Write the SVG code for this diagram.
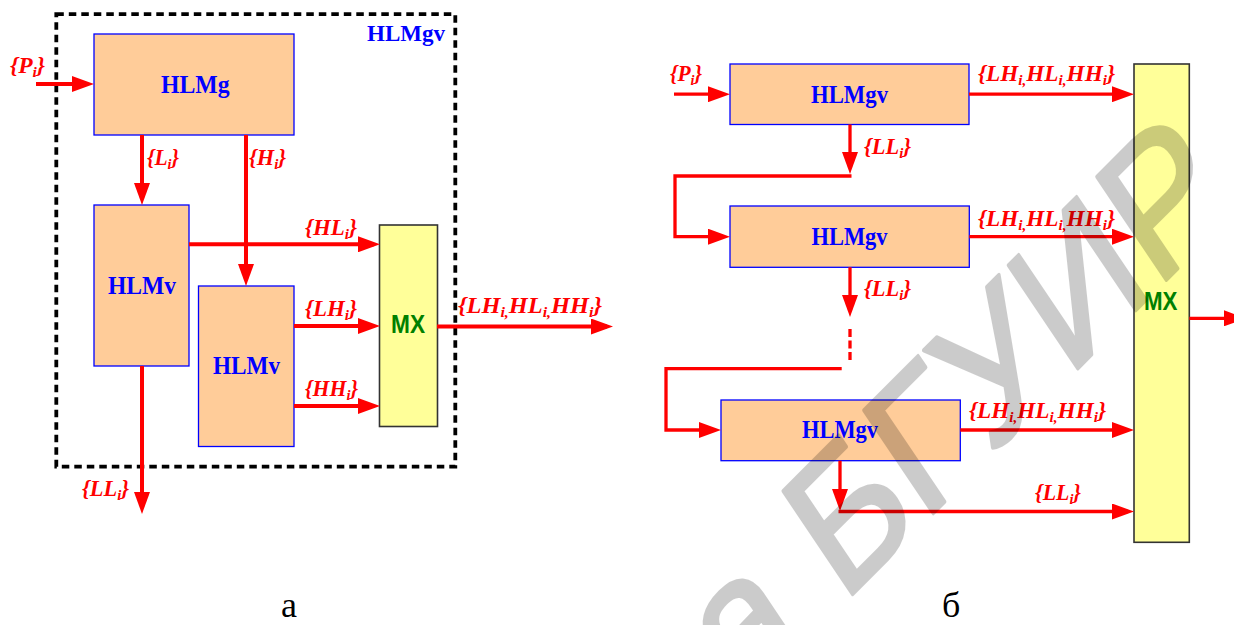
<svg xmlns="http://www.w3.org/2000/svg" width="1234" height="625" viewBox="0 0 1234 625">
<defs>
<style>
.box{fill:#FFCC99;stroke:#0000FF;stroke-width:1.3}
.mx{fill:#FFFF99;stroke:#333333;stroke-width:1.6}
.nt{font-family:'Liberation Serif','Times New Roman',Times,'DejaVu Serif',serif;font-weight:bold;fill:#0000FF;font-size:26px}
.mxt{font-family:'Liberation Sans',Arial,sans-serif;font-weight:bold;fill:#008000;font-size:25px}
.lbl{font-family:'Liberation Serif','Times New Roman',Times,'DejaVu Serif',serif;font-weight:bold;font-style:italic;fill:#FF0000;font-size:23px}
.s{font-size:15px}
.wa{stroke:#FF0000;stroke-width:4;fill:none}
.wb{stroke:#FF0000;stroke-width:3.3;fill:none}
.cap{font-family:'Liberation Serif','Times New Roman',Times,'DejaVu Serif',serif;font-size:36px;fill:#000}
</style>
<marker id="ah" markerUnits="userSpaceOnUse" markerWidth="22" markerHeight="16" refX="16" refY="8" orient="auto">
<path d="M0,0 L22,8 L0,16 z" fill="#FF0000"/>
</marker>
</defs>
<rect width="1234" height="625" fill="#FFFFFF"/>

<!-- Diagram a -->
<g id="hlmgv-frame">
<rect x="56.3" y="14.2" width="399" height="452.5" fill="none" stroke="#000" stroke-width="3.8" stroke-dasharray="7.5 5"/>
<text class="nt" x="367" y="41" style="font-size:23px" textLength="78" lengthAdjust="spacingAndGlyphs">HLMgv</text>
</g>
<g id="a-hlmg">
<rect class="box" x="94" y="34" width="200" height="101"/>
<text class="nt" x="161" y="92.5" textLength="68.5" lengthAdjust="spacingAndGlyphs">HLMg</text>
</g>
<g id="a-hlmv1">
<rect class="box" x="94" y="205" width="95" height="161"/>
<text class="nt" x="108" y="294" textLength="68" lengthAdjust="spacingAndGlyphs">HLMv</text>
</g>
<g id="a-hlmv2">
<rect class="box" x="198.5" y="286" width="95.5" height="160.5"/>
<text class="nt" x="213" y="374" textLength="67" lengthAdjust="spacingAndGlyphs">HLMv</text>
</g>
<g id="a-mx">
<rect class="mx" x="379.5" y="225" width="58" height="201.5"/>
<text class="mxt" x="391" y="333" textLength="34" lengthAdjust="spacingAndGlyphs">MX</text>
</g>

<g id="a-connectors">
<path class="wa" d="M36,84 H88" marker-end="url(#ah)"/>
<path class="wa" d="M142,135 V199" marker-end="url(#ah)"/>
<path class="wa" d="M246,135 V280" marker-end="url(#ah)"/>
<path class="wa" d="M189,244.3 H374" marker-end="url(#ah)"/>
<path class="wa" d="M294,326 H374" marker-end="url(#ah)"/>
<path class="wa" d="M294,406 H374" marker-end="url(#ah)"/>
<path class="wa" d="M437,326.5 H607" marker-end="url(#ah)"/>
<path class="wa" d="M142,366 V508" marker-end="url(#ah)"/>
</g>
<g id="a-labels">
<text class="lbl" x="10" y="73" textLength="35" lengthAdjust="spacingAndGlyphs">{P<tspan class="s" dy="4">i</tspan><tspan dy="-4">}</tspan></text>
<text class="lbl" x="147" y="165" textLength="32" lengthAdjust="spacingAndGlyphs">{L<tspan class="s" dy="4">i</tspan><tspan dy="-4">}</tspan></text>
<text class="lbl" x="249" y="165" textLength="37" lengthAdjust="spacingAndGlyphs">{H<tspan class="s" dy="4">i</tspan><tspan dy="-4">}</tspan></text>
<text class="lbl" x="305" y="235" textLength="52" lengthAdjust="spacingAndGlyphs">{HL<tspan class="s" dy="4">i</tspan><tspan dy="-4">}</tspan></text>
<text class="lbl" x="305" y="316" textLength="52" lengthAdjust="spacingAndGlyphs">{LH<tspan class="s" dy="4">i</tspan><tspan dy="-4">}</tspan></text>
<text class="lbl" x="305" y="396" textLength="53" lengthAdjust="spacingAndGlyphs">{HH<tspan class="s" dy="4">i</tspan><tspan dy="-4">}</tspan></text>
<text class="lbl" x="458" y="313" textLength="144" lengthAdjust="spacingAndGlyphs">{LH<tspan class="s" dy="4">i,</tspan><tspan dy="-4">HL</tspan><tspan class="s" dy="4">i,</tspan><tspan dy="-4">HH</tspan><tspan class="s" dy="4">i</tspan><tspan dy="-4">}</tspan></text>
<text class="lbl" x="82" y="496" textLength="47" lengthAdjust="spacingAndGlyphs">{LL<tspan class="s" dy="4">i</tspan><tspan dy="-4">}</tspan></text>
</g>

<!-- Diagram b -->
<g id="b-hlmgv1">
<rect class="box" x="730" y="64" width="239" height="60.5"/>
<text class="nt" x="811" y="102.5" textLength="77" lengthAdjust="spacingAndGlyphs">HLMgv</text>
</g>
<g id="b-hlmgv2">
<rect class="box" x="730" y="206" width="239.3" height="61.3"/>
<text class="nt" x="811.5" y="245" textLength="76" lengthAdjust="spacingAndGlyphs">HLMgv</text>
</g>
<g id="b-hlmgv3">
<rect class="box" x="721" y="400" width="239.3" height="60.7"/>
<text class="nt" x="802" y="438" textLength="76" lengthAdjust="spacingAndGlyphs">HLMgv</text>
</g>
<g id="b-mx">
<rect class="mx" x="1134" y="64" width="55.3" height="478.3"/>
<text class="mxt" x="1144" y="310" textLength="33.5" lengthAdjust="spacingAndGlyphs">MX</text>
</g>

<g id="b-connectors">
<path class="wb" d="M674,94.2 H724" marker-end="url(#ah)"/>
<path class="wb" d="M969,94.2 H1128" marker-end="url(#ah)"/>
<path class="wb" d="M850,124.5 V168" marker-end="url(#ah)"/>
<path class="wb" d="M851.5,176 H675 V236.7 H724" marker-end="url(#ah)"/>
<path class="wb" d="M969.3,236.7 H1128" marker-end="url(#ah)"/>
<path class="wb" d="M850,267.3 V311" marker-end="url(#ah)"/>
<path class="wb" d="M850,329 V361" stroke-dasharray="8 3.5"/>
<path class="wb" d="M841.7,368.7 H666 V430 H715" marker-end="url(#ah)"/>
<path class="wb" d="M960.3,430 H1128" marker-end="url(#ah)"/>
<path class="wb" d="M840,460.7 V505" marker-end="url(#ah)"/>
<path class="wb" d="M838.5,511.5 H1128" marker-end="url(#ah)"/>
<path class="wb" d="M1189.3,318.3 H1240" marker-end="url(#ah)"/>
</g>
<g id="b-labels">
<text class="lbl" x="670" y="81" textLength="32" lengthAdjust="spacingAndGlyphs">{P<tspan class="s" dy="4">i</tspan><tspan dy="-4">}</tspan></text>
<text class="lbl" x="978" y="81" textLength="137" lengthAdjust="spacingAndGlyphs">{LH<tspan class="s" dy="4">i,</tspan><tspan dy="-4">HL</tspan><tspan class="s" dy="4">i,</tspan><tspan dy="-4">HH</tspan><tspan class="s" dy="4">i</tspan><tspan dy="-4">}</tspan></text>
<text class="lbl" x="864" y="154" textLength="47" lengthAdjust="spacingAndGlyphs">{LL<tspan class="s" dy="4">i</tspan><tspan dy="-4">}</tspan></text>
<text class="lbl" x="978" y="226" textLength="137" lengthAdjust="spacingAndGlyphs">{LH<tspan class="s" dy="4">i,</tspan><tspan dy="-4">HL</tspan><tspan class="s" dy="4">i,</tspan><tspan dy="-4">HH</tspan><tspan class="s" dy="4">i</tspan><tspan dy="-4">}</tspan></text>
<text class="lbl" x="864" y="296" textLength="47" lengthAdjust="spacingAndGlyphs">{LL<tspan class="s" dy="4">i</tspan><tspan dy="-4">}</tspan></text>
<text class="lbl" x="969" y="418" textLength="137" lengthAdjust="spacingAndGlyphs">{LH<tspan class="s" dy="4">i,</tspan><tspan dy="-4">HL</tspan><tspan class="s" dy="4">i,</tspan><tspan dy="-4">HH</tspan><tspan class="s" dy="4">i</tspan><tspan dy="-4">}</tspan></text>
<text class="lbl" x="1035" y="500" textLength="46" lengthAdjust="spacingAndGlyphs">{LL<tspan class="s" dy="4">i</tspan><tspan dy="-4">}</tspan></text>
</g>

<g id="captions">
<text class="cap" x="281" y="617">а</text>
<text class="cap" x="942" y="617">б</text>
</g>

<g id="watermark" opacity="0.2">
<text transform="translate(740,707) scale(0.82,1) rotate(-39.4)" font-family="'Liberation Sans', Arial, sans-serif" font-size="194" fill="#000000" stroke="#000000" stroke-width="4" stroke-linejoin="round">а БГУИР</text>
</g>
</svg>
